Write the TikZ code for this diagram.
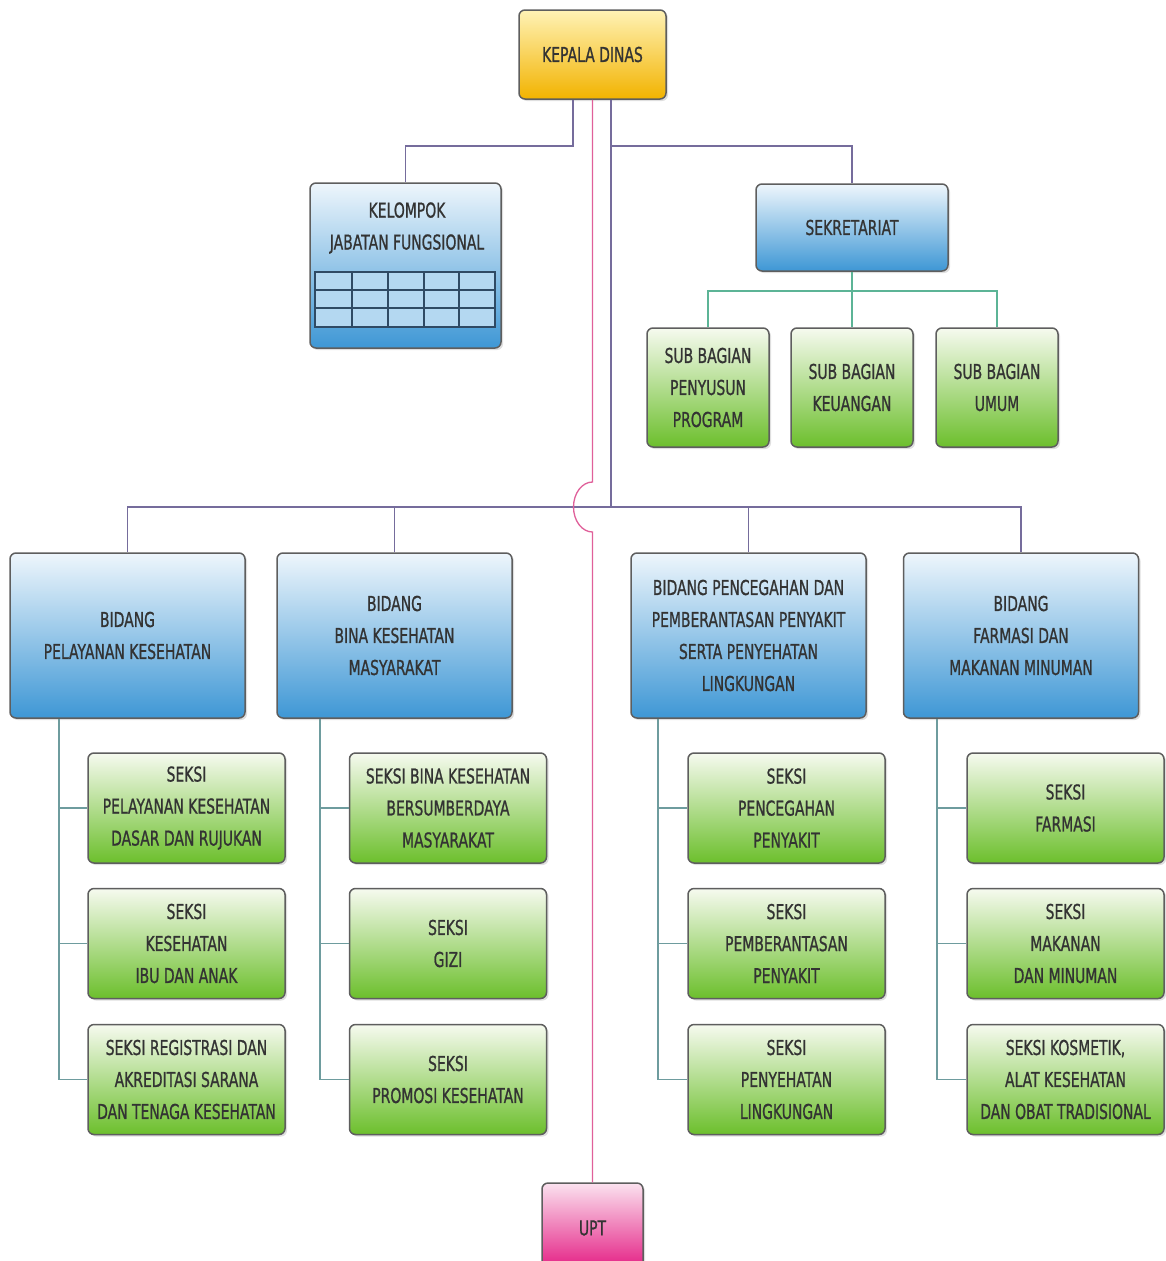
\documentclass[tikz,border=0pt]{standalone}
\usepackage{fontspec}
\setmainfont{DejaVu Sans}[FakeStretch=0.68,FakeBold=0.9]
\usetikzlibrary{shadows}
\definecolor{txt}{HTML}{333333}
\definecolor{boxline}{HTML}{5E5E5E}
\definecolor{mainline}{HTML}{756C9C}
\definecolor{pinkline}{HTML}{E0609A}
\definecolor{subline}{HTML}{5CB496}
\definecolor{seksiline}{HTML}{6E9C9E}
\definecolor{blueT}{HTML}{EEF6FC}
\definecolor{blueM}{HTML}{A6D0EE}
\definecolor{blueB}{HTML}{3E97D5}
\definecolor{greenT}{HTML}{F6FAEF}
\definecolor{greenM}{HTML}{C8E6A0}
\definecolor{greenB}{HTML}{6CBF2C}
\definecolor{goldT}{HTML}{FFF2B5}
\definecolor{goldM}{HTML}{FCD54C}
\definecolor{goldB}{HTML}{F2B300}
\definecolor{pinkT}{HTML}{FBE2EF}
\definecolor{pinkM}{HTML}{F293C4}
\definecolor{pinkB}{HTML}{E3167F}
\definecolor{gridfill}{HTML}{B4D8F1}
\definecolor{gridline}{HTML}{2F4A64}
\tikzset{
  orgbox/.style={draw=boxline, line width=1.5pt, rounded corners=6pt, align=center,
    inner sep=0pt, text=txt, font=\fontsize{20.5}{32}\selectfont,
    drop shadow={opacity=0.25, shadow xshift=2pt, shadow yshift=-2pt}},
  bluebox/.style={orgbox, top color=blueT, middle color=blueM, bottom color=blueB},
  greenbox/.style={orgbox, top color=greenT, middle color=greenM, bottom color=greenB},
  goldbox/.style={orgbox, top color=goldT, middle color=goldM, bottom color=goldB},
  pinkbox/.style={orgbox, top color=pinkT, middle color=pinkM, bottom color=pinkB},
  bidang/.style={bluebox, minimum width=235pt, minimum height=165pt},
  seksi/.style={greenbox, minimum width=197pt, minimum height=110pt},
  subbag/.style={greenbox, minimum width=122pt, minimum height=119pt},
  mline/.style={draw=mainline, line width=1.6pt},
  pline/.style={draw=pinkline, line width=1.3pt},
  sline/.style={draw=subline, line width=1.6pt},
  kline/.style={draw=seksiline, line width=1.6pt},
  lbl/.style={text=txt, font=\fontsize{20.5}{32}\selectfont, align=center, inner sep=0pt}
}
\begin{document}
\begin{tikzpicture}[x=1pt,y=-1pt]
\useasboundingbox[fill=white] (0,0) rectangle (1166,1261);

\coordinate (bus) at (0,507);
\coordinate (t1) at (59,0);
\coordinate (t2) at (320,0);
\coordinate (t3) at (658,0);
\coordinate (t4) at (937,0);

% boxes
\node[goldbox, minimum width=147pt, minimum height=89pt] (kepala) at (592.5,54.5) {KEPALA DINAS};

\node[bluebox, minimum width=191pt, minimum height=165pt] (kelompok) at (405.5,265.5) {};
\node[lbl] (kelompokT) at (407,228) {KELOMPOK\\JABATAN FUNGSIONAL};

\node[bluebox, minimum width=192pt, minimum height=87pt] (sek) at (852,227.5) {SEKRETARIAT};

\node[subbag] (sub1) at (708,387.5) {SUB BAGIAN\\PENYUSUN\\PROGRAM};
\node[subbag] (sub2) at (852,387.5) {SUB BAGIAN\\KEUANGAN};
\node[subbag] (sub3) at (997,387.5) {SUB BAGIAN\\UMUM};

\node[bidang] (bid1) at (127.5,635.5) {BIDANG\\PELAYANAN KESEHATAN};
\node[bidang] (bid2) at (394.5,635.5) {BIDANG\\BINA KESEHATAN\\MASYARAKAT};
\node[bidang] (bid3) at (748.5,635.5) {BIDANG PENCEGAHAN DAN\\PEMBERANTASAN PENYAKIT\\SERTA PENYEHATAN\\LINGKUNGAN};
\node[bidang] (bid4) at (1021,635.5) {BIDANG\\FARMASI DAN\\MAKANAN MINUMAN};

\node[seksi] (s11) at (186.5,808) {SEKSI\\PELAYANAN KESEHATAN\\DASAR DAN RUJUKAN};
\node[seksi] (s12) at (186.5,943.5) {SEKSI\\KESEHATAN\\IBU DAN ANAK};
\node[seksi] (s13) at (186.5,1079.5) {SEKSI REGISTRASI DAN\\AKREDITASI SARANA\\DAN TENAGA KESEHATAN};

\node[seksi] (s21) at (448,808) {SEKSI BINA KESEHATAN\\BERSUMBERDAYA\\MASYARAKAT};
\node[seksi] (s22) at (448,943.5) {SEKSI\\GIZI};
\node[seksi] (s23) at (448,1079.5) {SEKSI\\PROMOSI KESEHATAN};

\node[seksi] (s31) at (786.5,808) {SEKSI\\PENCEGAHAN\\PENYAKIT};
\node[seksi] (s32) at (786.5,943.5) {SEKSI\\PEMBERANTASAN\\PENYAKIT};
\node[seksi] (s33) at (786.5,1079.5) {SEKSI\\PENYEHATAN\\LINGKUNGAN};

\node[seksi] (s41) at (1065.5,808) {SEKSI\\FARMASI};
\node[seksi] (s42) at (1065.5,943.5) {SEKSI\\MAKANAN\\DAN MINUMAN};
\node[seksi] (s43) at (1065.5,1079.5) {SEKSI KOSMETIK,\\ALAT KESEHATAN\\DAN OBAT TRADISIONAL};

\node[pinkbox, minimum width=101pt, minimum height=90pt] (upt) at (592.5,1228) {UPT};

% grid inside kelompok
\fill[gridfill] (315,272) rectangle (495,327);
\draw[gridline, line width=1.1pt] (315,272) rectangle (495,327);
\foreach \gx in {352,388,424,459} \draw[gridline, line width=1.1pt] (\gx,272) -- (\gx,327);
\foreach \gy in {290,308} \draw[gridline, line width=1.1pt] (315,\gy) -- (495,\gy);

% main connectors
\draw[mline] ([xshift=-19.5pt]kepala.south) -- ++(0,46) -| (kelompok.north);
\draw[mline] ([xshift=18.5pt]kepala.south) -- ++(0,46) -| (sek.north);
\draw[mline] ([xshift=18.5pt]kepala.south) -- ([xshift=18.5pt]kepala.south |- bus);
\draw[mline] (bid1.north) -- (bid1.north |- bus) -| (bid4.north);
\draw[mline] (bid2.north) -- (bid2.north |- bus);
\draw[mline] (bid3.north) -- (bid3.north |- bus);

% sekretariat sub-bus
\draw[sline] (sek.south) -- (sub2.north);
\draw[sline] (sub1.north) -- ++(0,-36) -| (sub3.north);

% seksi trees
\draw[kline] (t1 |- bid1.south) |- (s13.west);
\draw[kline] (t1 |- s11.west) -- (s11.west);
\draw[kline] (t1 |- s12.west) -- (s12.west);
\draw[kline] (t2 |- bid2.south) |- (s23.west);
\draw[kline] (t2 |- s21.west) -- (s21.west);
\draw[kline] (t2 |- s22.west) -- (s22.west);
\draw[kline] (t3 |- bid3.south) |- (s33.west);
\draw[kline] (t3 |- s31.west) -- (s31.west);
\draw[kline] (t3 |- s32.west) -- (s32.west);
\draw[kline] (t4 |- bid4.south) |- (s43.west);
\draw[kline] (t4 |- s41.west) -- (s41.west);
\draw[kline] (t4 |- s42.west) -- (s42.west);

% pink line to UPT with hop over the bus
\draw[pline] (kepala.south) -- (592.5,482)
  arc[start angle=90, end angle=270, x radius=19pt, y radius=25pt]
  -- (upt.north);
\end{tikzpicture}
\end{document}
